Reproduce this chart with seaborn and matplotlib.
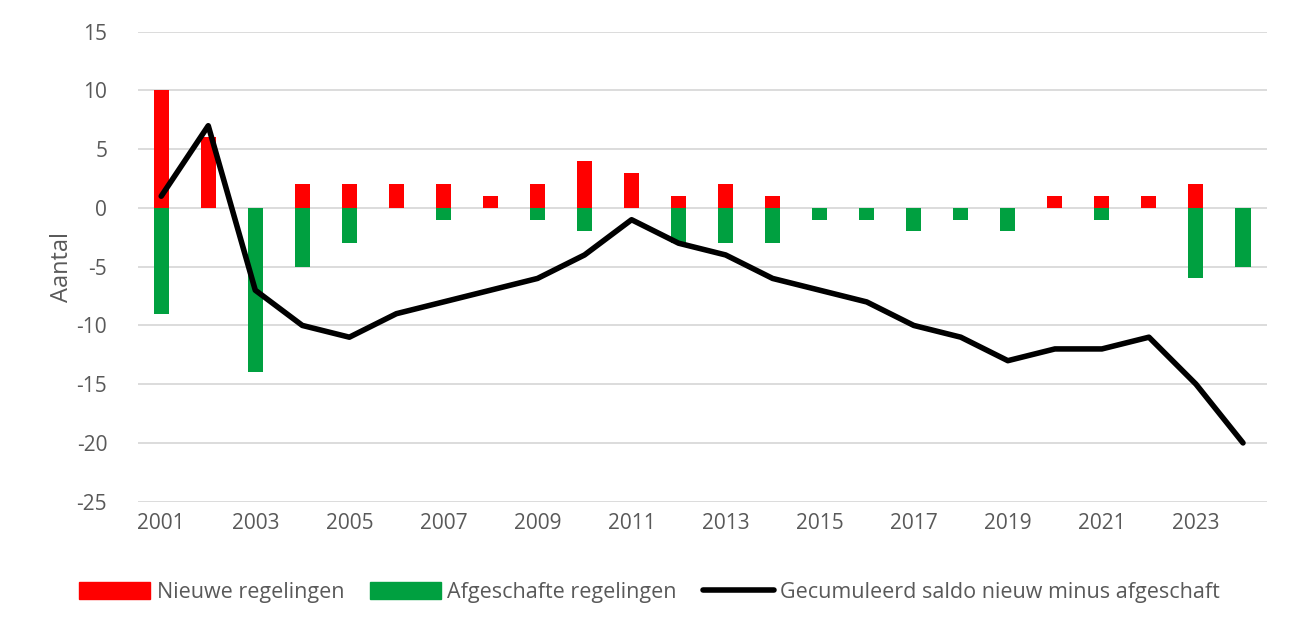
import numpy as np
import pandas as pd
import seaborn as sns
import matplotlib.pyplot as plt
from matplotlib.patches import Patch
from matplotlib.lines import Line2D

jaren = list(range(2001, 2025))
nieuw = [10, 6, 0, 2, 2, 2, 2, 1, 2, 4, 3, 1, 2, 1, 0, 0, 0, 0, 0, 1, 1, 1, 2, 0]
afgeschaft = [-9, 0, -14, -5, -3, 0, -1, 0, -1, -2, 0, -3, -3, -3, -1, -1, -2, -1, -2, 0, -1, 0, -6, -5]
saldo = [1, 7, -7, -10, -11, -9, -8, -7, -6, -4, -1, -3, -4, -6, -7, -8, -10, -11, -13, -12, -12, -11, -15, -20]

rood = "#FF0000"
groen = "#00A040"
grijs = "#595959"

df = pd.DataFrame({"jaar": jaren, "nieuw": nieuw, "afgeschaft": afgeschaft, "saldo": saldo})

sns.set_style("white")
plt.rcParams["font.family"] = ["Open Sans", "DejaVu Sans"]
plt.rcParams["axes.unicode_minus"] = False

fig, ax = plt.subplots(figsize=(12.99, 6.35), dpi=100)
fig.subplots_adjust(left=0.106, right=0.975, top=0.95, bottom=0.21)

for y in range(-25, 20, 5):
    ax.axhline(y, color="#D9D9D9", lw=1.3, zorder=0)

sns.barplot(data=df, x="jaar", y="nieuw", color=rood, native_scale=True,
            width=0.32, saturation=1, linewidth=0, ax=ax, zorder=2)
sns.barplot(data=df, x="jaar", y="afgeschaft", color=groen, native_scale=True,
            width=0.32, saturation=1, linewidth=0, ax=ax, zorder=2)
sns.lineplot(data=df, x="jaar", y="saldo", color="black", lw=4,
             solid_capstyle="round", ax=ax, zorder=3)

ax.set_xlim(2000.5, 2024.5)
ax.set_ylim(-25, 15)
ax.set_yticks(range(-25, 20, 5))
ax.set_xticks(range(2001, 2025, 2))
ax.tick_params(axis="both", labelsize=15, colors=grijs, length=0, pad=8)
ax.tick_params(axis="y", pad=22)
ax.set_xlabel("")
ax.set_ylabel("Aantal", fontsize=17, color=grijs, labelpad=2)
for s in ax.spines.values():
    s.set_visible(False)

handles = [
    Patch(color=rood, label="Nieuwe regelingen"),
    Patch(color=groen, label="Afgeschafte regelingen"),
    Line2D([0], [0], color="black", lw=4, solid_capstyle="round",
           label="Gecumuleerd saldo nieuw minus afgeschaft"),
]
leg = fig.legend(handles=handles, loc="lower center", ncol=3, frameon=False,
                 bbox_to_anchor=(0.5, 0.02), fontsize=15.5, handlelength=3.3,
                 handleheight=0.9, columnspacing=1.2, handletextpad=0.3)
for t in leg.get_texts():
    t.set_color(grijs)

fig.savefig("out.png", dpi=100)
